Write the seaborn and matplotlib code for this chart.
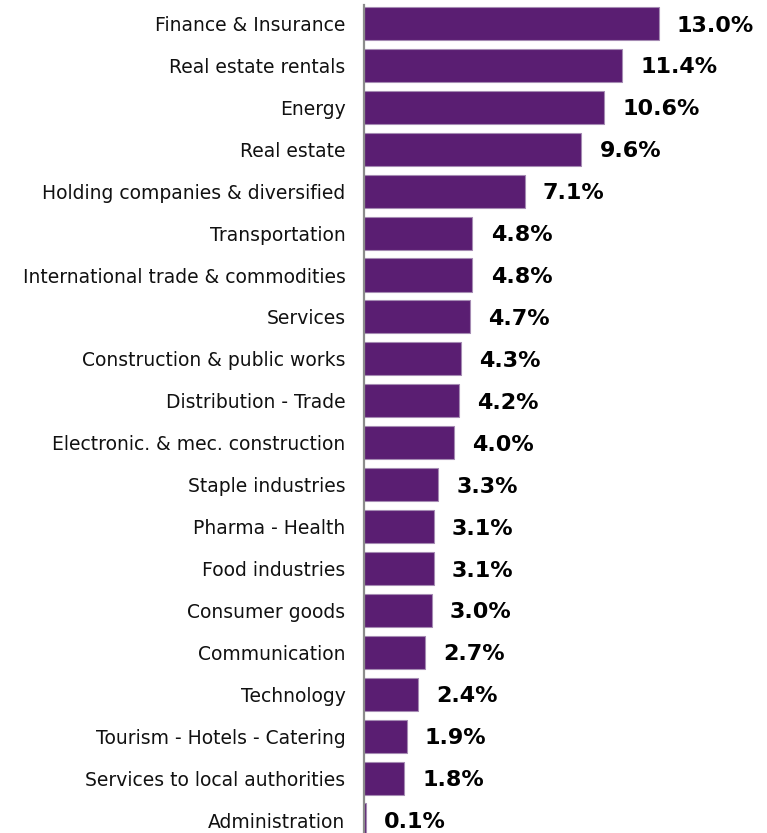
import matplotlib
matplotlib.use("Agg")
import matplotlib.pyplot as plt
import seaborn as sns
import pandas as pd

sectors = [
    "Finance & Insurance", "Real estate rentals", "Energy", "Real estate",
    "Holding companies & diversified", "Transportation",
    "International trade & commodities", "Services",
    "Construction & public works", "Distribution - Trade",
    "Electronic. & mec. construction", "Staple industries",
    "Pharma - Health", "Food industries", "Consumer goods",
    "Communication", "Technology", "Tourism - Hotels - Catering",
    "Services to local authorities", "Administration",
]
shares = [13.0, 11.4, 10.6, 9.6, 7.1, 4.8, 4.8, 4.7, 4.3, 4.2,
          4.0, 3.3, 3.1, 3.1, 3.0, 2.7, 2.4, 1.9, 1.8, 0.1]

df = pd.DataFrame({"sector": sectors, "share": shares})

sns.set_style("white")
plt.rcParams['font.family'] = ['DejaVu Sans']

fig = plt.figure(figsize=(7.67, 8.33), dpi=100)
ax = fig.add_axes([0.474, 0.0, 0.526, 1.0])

sns.barplot(data=df, x="share", y="sector", orient="h", color="#5a1e72",
            saturation=1, width=0.79, edgecolor="#a58bb3", linewidth=0.8, ax=ax)

for i, v in enumerate(shares):
    ax.text(v + 0.8, i + 0.05, f"{v:.1f}%", va="center", ha="left",
            fontsize=16, fontweight="bold", color="black")

ax.set_xlim(0, 17.78)
ax.set_ylim(19.31, -0.56)
ax.set_xlabel("")
ax.set_ylabel("")
ax.set_xticks([])
ax.tick_params(axis="y", length=0, pad=13, labelsize=13.5, labelcolor="#111111")
for s in ["top", "right", "bottom"]:
    ax.spines[s].set_visible(False)
ax.spines["left"].set_color("#8c8c8c")
ax.spines["left"].set_linewidth(1.6)
ax.spines["left"].set_bounds(-0.44, 19.31)

fig.savefig("out.png", dpi=100)
